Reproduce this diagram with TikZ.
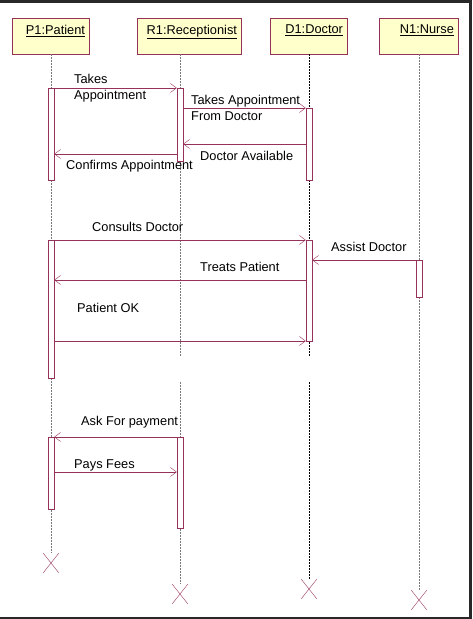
\documentclass[tikz,border=0pt]{standalone}
\usepackage{fontspec}
\setmainfont{Liberation Sans}
\usetikzlibrary{arrows.meta,shapes.misc}
\definecolor{umlred}{RGB}{150,50,90}
\definecolor{umlfill}{RGB}{255,255,204}
\definecolor{lifegray}{RGB}{120,120,120}
\definecolor{frame}{RGB}{40,40,40}

\begin{document}
\begin{tikzpicture}[x=1pt, y=-1pt,
  every node/.style={font=\fontsize{12.8}{16}\selectfont},
  head/.style={draw=umlred, fill=umlfill, minimum width=#1, minimum height=36, inner sep=0},
  objname/.style={anchor=north east, inner sep=0, xshift=-4pt, yshift=-7pt},
  act/.style={draw=umlred, fill=white, minimum width=6, minimum height=#1, inner sep=0},
  msg/.style={umlred, -{Straight Barb[length=6pt,width=9pt]}},
  life/.style={lifegray, dash pattern=on 2pt off 1pt},
  kill/.style={draw=umlred, cross out, minimum width=15, minimum height=19, inner sep=0},
  txt/.style={anchor=west, inner sep=0, align=left}]
\useasboundingbox (0,0) rectangle (472,619);
\fill[frame] (0,0) rectangle (472,2.5);
\fill[frame] (469,0) rectangle (472,619);
\fill[frame] (0,616.5) rectangle (472,619);

% objects
\node[head=77] (p1) at (50.5,36) {};
\node[head=104] (r1) at (189,36) {};
\node[head=77] (d1) at (308.5,36) {};
\node[head=79] (n1) at (418.5,36) {};
\node[objname] (p1t) at (p1.north east) {\underline{P1:Patient}};
\node[objname] (r1t) at (r1.north east) {\underline{R1:Receptionist}};
\node[objname] (d1t) at (d1.north east) {\underline{D1:Doctor}};
\node[objname] (n1t) at (n1.north east) {\underline{N1:Nurse}};

% end of lifelines
\node[kill] (xp) at (51,563) {};
\node[kill] (xr) at (180,594) {};
\node[kill] (xd) at (309,589) {};
\node[kill] (xn) at (419,600) {};

\coordinate (gapa) at (0,357);
\coordinate (gapb) at (0,382);
\draw[life] (p1.south -| xp) -- (xp);
\draw[life] (r1.south -| xr) -- (xr |- gapa) (xr |- gapb) -- (xr);
\draw[life, black] (d1.south -| xd) -- (xd |- gapa) (xd |- gapb) -- (xd);
\draw[life] (n1.south -| xn) -- (xn);

% activations
\node[act=92] (pa1) at (51,134) {};
\node[act=73] (ra1) at (180,124.5) {};
\node[act=72] (da1) at (309,144) {};
\node[act=138] (pa2) at (51,309) {};
\node[act=101] (da2) at (309,290.5) {};
\node[act=37] (na1) at (419,278.5) {};
\node[act=72] (pa3) at (51,473) {};
\node[act=91] (ra3) at (180,482.5) {};

% messages
\coordinate (m1) at (0,88);
\coordinate (m2) at (0,108);
\coordinate (m3) at (0,144);
\coordinate (m4) at (0,154);
\coordinate (m5) at (0,240);
\coordinate (m6) at (0,260);
\coordinate (m7) at (0,280);
\coordinate (m8) at (0,341);
\coordinate (m9) at (0,437);
\coordinate (m10) at (0,472);
\draw[msg] (pa1.east |- m1) -- (ra1.west |- m1);
\draw[msg] (ra1.east |- m2) -- (da1.west |- m2);
\draw[msg] (da1.west |- m3) -- (ra1.east |- m3);
\draw[msg] (ra1.west |- m4) -- (pa1.east |- m4);
\draw[msg] (pa2.east |- m5) -- (da2.west |- m5);
\draw[msg] (na1.west |- m6) -- (da2.east |- m6);
\draw[msg] (da2.west |- m7) -- (pa2.east |- m7);
\draw[msg] (pa2.east |- m8) -- (da2.west |- m8);
\draw[msg] (ra3.west |- m9) -- (pa3.east |- m9);
\draw[msg] (pa3.east |- m10) -- (ra3.west |- m10);

\node[txt] (l1) at (74,88) {Takes\\Appointment};
\node[txt] (l2) at (191,108) {Takes Appointment\\From Doctor};
\node[txt] (l3) at (200,156) {Doctor Available};
\node[txt] (l4) at (66,166) {Confirms Appointment};
\node[txt] (l5) at (92,227) {Consults Doctor};
\node[txt] (l6) at (331,247) {Assist Doctor};
\node[txt] (l7) at (200,267) {Treats Patient};
\node[txt] (l8) at (77,308) {Patient OK};
\node[txt] (l9) at (81,422) {Ask For payment};
\node[txt] (l10) at (74,465) {Pays Fees};
\end{tikzpicture}
\end{document}
